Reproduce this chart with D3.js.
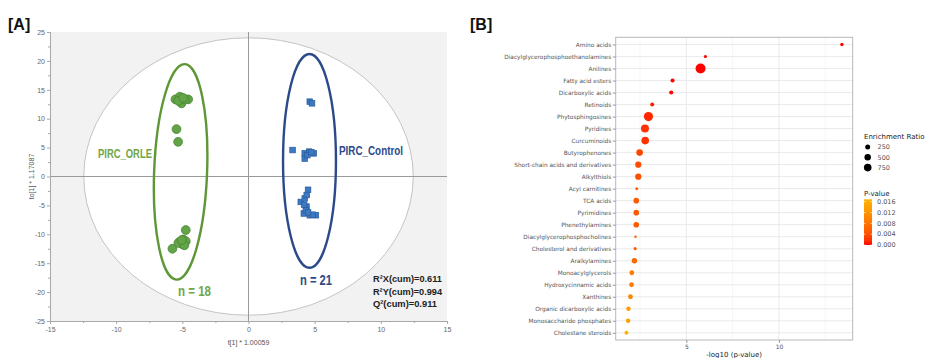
<!DOCTYPE html>
<html>
<head>
<meta charset="utf-8">
<script src="https://cdn.jsdelivr.net/npm/d3@7"></script>
<style>
  body { margin: 0; background: #fff; }
  svg { display: block; }
</style>
</head>
<body>
<svg id="chart" width="929" height="358"></svg>
<script>
// ---------- Panel A: OPLS-DA score plot ----------
const orleX = [-5.52, -5.19, -4.56, -5.06, -4.81, -5.30, -4.95, -5.44, -5.32,
               -4.74, -5.75, -5.19, -4.94, -4.74, -5.00, -5.30, -4.85, -5.05];
const orleY = [13.35, 13.80, 13.35, 12.66, 13.35, 13.10, 13.60, 8.20, 6.00,
               -9.26, -12.50, -11.30, -10.90, -11.20, -11.70, -11.50, -11.90, -11.00];
const ctrlX = [4.63, 4.80, 3.33, 4.25, 4.58, 4.93, 4.25, 4.45, 4.75,
               4.50, 3.95, 4.25, 4.38, 4.18, 4.63, 5.09, 4.33, 4.40, 4.20, 4.85, 4.50];
const ctrlY = [12.95, 12.66, 4.58, 4.00, 4.30, 4.00, 3.10, 3.70, 4.20,
               -2.30, -4.40, -3.80, -5.20, -6.40, -6.70, -6.70, -5.80, -3.20, -4.90, -6.60, -6.20];
const groupNames = ["PIRC_ORLE", "PIRC_Control"];
const groupSizes = [18, 21];
// group confidence ellipses (score units) and Hotelling T2 ellipse
const ellCx = [-5.13, 4.61];
const ellCy = [0.8, 2.7];
const ellRx = [2.0, 2.0];
const ellRy = [18.65, 18.5];
const ellTilt = [2.2, 0];
const t2Rx = 12.45, t2Ry = 24;
const modelStats = ["R²X(cum)=0.611", "R²Y(cum)=0.994", "Q²(cum)=0.911"];
const xTicksA = d3.range(-15, 16, 5);
const yTicksA = d3.range(-25, 26, 5);

// ---------- Panel B: enrichment dot plot ----------
const classes = ["Amino acids", "Diacylglycerophosphoethanolamines", "Anilines", "Fatty acid esters",
  "Dicarboxylic acids", "Retinoids", "Phytosphingosines", "Pyridines", "Curcuminoids",
  "Butyrophenones", "Short-chain acids and derivatives", "Alkylthiols", "Acyl carnitines",
  "TCA acids", "Pyrimidines", "Phenethylamines", "Diacylglycerophosphocholines",
  "Cholesterol and derivatives", "Aralkylamines", "Monoacylglycerols", "Hydroxycinnamic acids",
  "Xanthines", "Organic dicarboxylic acids", "Monosaccharide phosphates", "Cholestane steroids"];
const pValues = [4.0e-14, 9.3e-7, 1.7e-6, 5.5e-5, 6.5e-5, 6.9e-4, 1.1e-3, 1.7e-3, 1.65e-3,
  3.3e-3, 3.9e-3, 3.9e-3, 4.7e-3, 5.0e-3, 5.0e-3, 5.0e-3, 5.5e-3, 5.75e-3, 6.3e-3,
  8.7e-3, 9.0e-3, 1.03e-2, 1.32e-2, 1.38e-2, 1.69e-2];
const enrichment = [75, 60, 1450, 140, 140, 129, 1190, 850, 750, 527, 448, 448, 47,
  342, 342, 342, 18, 60, 320, 230, 222, 222, 172, 172, 129];
const xTicksB = [5, 10];
const xMinorB = [2.5, 7.5, 12.5];
const sizeBreaks = [250, 500, 750];
const pBreaks = [0, 0.004, 0.008, 0.012, 0.016];

const svg = d3.select("#chart");
svg.append("rect").attr("width", 929).attr("height", 358).attr("fill", "#fff");

// panel tags
svg.append("text").attr("x", 8).attr("y", 30).text("[A]")
  .attr("font-family", "Liberation Sans, Arial, sans-serif").attr("font-weight", "bold")
  .attr("font-size", 16).attr("fill", "#111");
svg.append("text").attr("x", 470).attr("y", 30).text("[B]")
  .attr("font-family", "Liberation Sans, Arial, sans-serif").attr("font-weight", "bold")
  .attr("font-size", 16).attr("fill", "#111");

// ===== Panel A =====
const xA = d3.scaleLinear().domain([-15, 15]).range([50, 447]);
const yA = d3.scaleLinear().domain([-25, 25]).range([321, 32]);
const gA = svg.append("g");

gA.append("rect").attr("x", xA(-15)).attr("y", yA(25))
  .attr("width", xA(15) - xA(-15)).attr("height", yA(-25) - yA(25)).attr("fill", "#f2f2f2");
gA.append("ellipse").attr("cx", xA(0)).attr("cy", yA(0))
  .attr("rx", xA(t2Rx) - xA(0)).attr("ry", yA(0) - yA(t2Ry))
  .attr("fill", "#fff").attr("stroke", "#c4c4c4").attr("stroke-width", 1);

// zero lines
gA.append("line").attr("x1", xA(0)).attr("x2", xA(0)).attr("y1", yA(25)).attr("y2", yA(-25))
  .attr("stroke", "#9a9a9a").attr("stroke-width", 1);
gA.append("line").attr("x1", xA(-15)).attr("x2", xA(15)).attr("y1", yA(0)).attr("y2", yA(0))
  .attr("stroke", "#9a9a9a").attr("stroke-width", 1);

function styleAxis(g) {
  g.select(".domain").attr("stroke", "#a8a8a8");
  g.selectAll(".tick line").attr("stroke", "#a8a8a8");
  g.selectAll(".tick text").attr("fill", "#666").attr("font-size", 7)
    .attr("font-family", "Liberation Sans, Arial, sans-serif");
}
const fmtA = d => String(d);
gA.append("g").attr("transform", `translate(${xA(-15)},0)`)
  .call(d3.axisLeft(yA).tickValues(d3.range(-22.5, 25, 5)).tickSize(2).tickFormat(""))
  .call(styleAxis);
gA.append("g").attr("transform", `translate(${xA(-15)},0)`)
  .call(d3.axisLeft(yA).tickValues(yTicksA).tickSize(3).tickPadding(2).tickFormat(fmtA))
  .call(styleAxis);
gA.append("g").attr("transform", `translate(0,${yA(-25)})`)
  .call(d3.axisBottom(xA).tickValues(d3.range(-12.5, 15, 5)).tickSize(2).tickFormat(""))
  .call(styleAxis);
gA.append("g").attr("transform", `translate(0,${yA(-25)})`)
  .call(d3.axisBottom(xA).tickValues(xTicksA).tickSize(3).tickPadding(3).tickFormat(fmtA))
  .call(styleAxis);

gA.append("text").attr("x", xA(0)).attr("y", 345).attr("text-anchor", "middle")
  .attr("font-size", 7).attr("fill", "#555").attr("font-family", "Liberation Sans, Arial, sans-serif")
  .text("t[1] * 1.00059");
gA.append("text").attr("transform", `translate(34,${yA(0)}) rotate(-90)`).attr("text-anchor", "middle")
  .attr("font-size", 7).attr("fill", "#555").attr("font-family", "Liberation Sans, Arial, sans-serif")
  .text("to[1] * 1.17087");

const green = "#5e9735", greenText = "#6fa648", navy = "#2c4a8a";
const groupColors = [green, navy];
const labelColors = [greenText, navy];

// group ellipses
groupNames.forEach((g, i) => {
  gA.append("ellipse")
    .attr("transform", `translate(${xA(ellCx[i])},${yA(ellCy[i])}) rotate(${ellTilt[i]})`)
    .attr("rx", xA(ellCx[i] + ellRx[i]) - xA(ellCx[i]))
    .attr("ry", yA(0) - yA(ellRy[i]))
    .attr("fill", "none").attr("stroke", groupColors[i]).attr("stroke-width", 2.4);
});

// ORLE scores (circles)
gA.append("g").selectAll("circle").data(d3.range(orleX.length)).join("circle")
  .attr("cx", i => xA(orleX[i])).attr("cy", i => yA(orleY[i])).attr("r", 4.4)
  .attr("fill", "#62a447").attr("stroke", "#4a8534").attr("stroke-width", 0.8);

// Control scores (squares)
const sq = 5.6;
gA.append("g").selectAll("rect").data(d3.range(ctrlX.length)).join("rect")
  .attr("x", i => xA(ctrlX[i]) - sq / 2).attr("y", i => yA(ctrlY[i]) - sq / 2)
  .attr("width", sq).attr("height", sq)
  .attr("fill", "#3c79c0").attr("stroke", "#2a5c9e").attr("stroke-width", 0.7);

const boldFont = "Liberation Sans, Arial, sans-serif";
function label(x, y, txt, size, color, len) {
  gA.append("text").attr("x", x).attr("y", y).text(txt)
    .attr("font-family", boldFont).attr("font-weight", "bold").attr("font-size", size)
    .attr("fill", color).attr("textLength", len).attr("lengthAdjust", "spacingAndGlyphs");
}
label(98, 158, groupNames[0], 12, labelColors[0], 54);
label(339, 155, groupNames[1], 12, labelColors[1], 64);
label(178, 296, "n = " + groupSizes[0], 14, labelColors[0], 33);
label(300, 285, "n = " + groupSizes[1], 14, labelColors[1], 32);
modelStats.forEach((s, i) => label(373, 282 + i * 12.7, s, 9.5, "#222", i === 2 ? 64 : 69));

// ===== Panel B =====
const negLog = pValues.map(p => -Math.log10(p));
const ext = d3.extent(negLog);
const padX = (ext[1] - ext[0]) * 0.05;
const xB = d3.scaleLinear().domain([ext[0] - padX, ext[1] + padX]).range([615.7, 852.7]);
const yB = d3.scalePoint().domain(classes).range([37.3, 340]).padding(0.6);
const pMax = d3.max(pValues);
const color = d3.scaleLinear().domain([0, pMax]).range(["#ff0000", "#ffb400"]).interpolate(d3.interpolateLab);
const size = d3.scaleSqrt().domain([0, 1500]).range([0.73, 5.07]);
const gB = svg.append("g");
const fontB = "DejaVu Sans, sans-serif";

// grid
gB.selectAll("line.minor").data(xMinorB).join("line")
  .attr("x1", d => xB(d)).attr("x2", d => xB(d)).attr("y1", 37.3).attr("y2", 340)
  .attr("stroke", "#f0f0f0").attr("stroke-width", 0.6);
gB.selectAll("line.hgrid").data(classes).join("line")
  .attr("x1", 615.7).attr("x2", 852.7).attr("y1", d => yB(d)).attr("y2", d => yB(d))
  .attr("stroke", "#e4e4e4").attr("stroke-width", 0.8);
gB.selectAll("line.vgrid").data(xTicksB).join("line")
  .attr("x1", d => xB(d)).attr("x2", d => xB(d)).attr("y1", 37.3).attr("y2", 340)
  .attr("stroke", "#e4e4e4").attr("stroke-width", 0.8);

// points
gB.append("g").selectAll("circle").data(d3.range(classes.length)).join("circle")
  .attr("cx", i => xB(negLog[i])).attr("cy", i => yB(classes[i]))
  .attr("r", i => size(enrichment[i])).attr("fill", i => color(pValues[i]));

// panel border
gB.append("rect").attr("x", 615.7).attr("y", 37.3).attr("width", 237).attr("height", 302.7)
  .attr("fill", "none").attr("stroke", "#b8b8b8").attr("stroke-width", 1);

// axes
const yAxB = gB.append("g").attr("transform", "translate(615.7,0)")
  .call(d3.axisLeft(yB).tickSize(3).tickPadding(1.5));
yAxB.select(".domain").remove();
yAxB.selectAll(".tick line").attr("stroke", "#999");
yAxB.selectAll(".tick text").attr("font-family", fontB).attr("font-size", 5.8).attr("fill", "#555");

const xAxB = gB.append("g").attr("transform", "translate(0,340)")
  .call(d3.axisBottom(xB).tickValues(xTicksB).tickSize(3).tickPadding(1.5).tickFormat(d => String(d)));
xAxB.select(".domain").remove();
xAxB.selectAll(".tick line").attr("stroke", "#999");
xAxB.selectAll(".tick text").attr("font-family", fontB).attr("font-size", 6).attr("fill", "#555");

gB.append("text").attr("x", (615.7 + 852.7) / 2).attr("y", 357).attr("text-anchor", "middle")
  .attr("font-family", fontB).attr("font-size", 7).attr("fill", "#222").text("-log10 (p-value)");

// size legend
const legX = 864;
gB.append("text").attr("x", legX).attr("y", 139).attr("font-family", fontB).attr("font-size", 7)
  .attr("fill", "#222").text("Enrichment Ratio");
sizeBreaks.forEach((v, i) => {
  const cy = 147 + i * 10.3;
  gB.append("circle").attr("cx", 867.7).attr("cy", cy).attr("r", size(v)).attr("fill", "#000");
  gB.append("text").attr("x", 877.5).attr("y", cy).attr("dy", "0.35em").attr("font-family", fontB)
    .attr("font-size", 6.5).attr("fill", "#555").text(v);
});

// colour legend
gB.append("text").attr("x", legX).attr("y", 195.5).attr("font-family", fontB).attr("font-size", 7)
  .attr("fill", "#222").text("P-value");
const yC = d3.scaleLinear().domain([0, pMax]).range([245, 199.3]);
const grad = svg.append("defs").append("linearGradient").attr("id", "pgrad")
  .attr("x1", 0).attr("y1", 1).attr("x2", 0).attr("y2", 0);
d3.range(0, 1.0001, 0.1).forEach(t => {
  grad.append("stop").attr("offset", t).attr("stop-color", color(t * pMax));
});
gB.append("rect").attr("x", legX).attr("y", yC(pMax)).attr("width", 8).attr("height", yC(0) - yC(pMax))
  .attr("fill", "url(#pgrad)");
pBreaks.forEach(v => {
  gB.append("line").attr("x1", legX).attr("x2", legX + 1.6).attr("y1", yC(v)).attr("y2", yC(v))
    .attr("stroke", "#fff").attr("stroke-width", 0.6);
  gB.append("line").attr("x1", legX + 6.4).attr("x2", legX + 8).attr("y1", yC(v)).attr("y2", yC(v))
    .attr("stroke", "#fff").attr("stroke-width", 0.6);
  gB.append("text").attr("x", 877).attr("y", yC(v)).attr("dy", "0.35em").attr("font-family", fontB)
    .attr("font-size", 6.5).attr("fill", "#555").text(d3.format(".3f")(v));
});
</script>
</body>
</html>
